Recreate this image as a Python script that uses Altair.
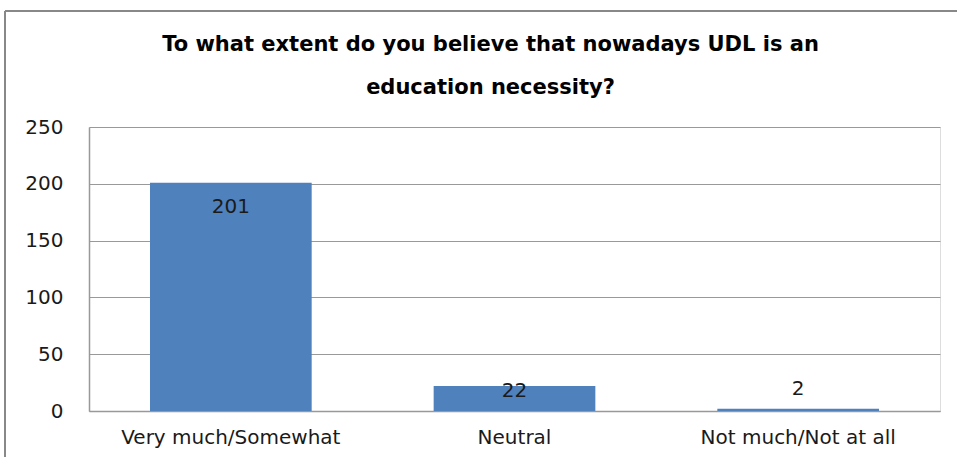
import altair as alt
import pandas as pd

categories = ["Very much/Somewhat", "Neutral", "Not much/Not at all"]
values = [201, 22, 2]
y_ticks = [0, 50, 100, 150, 200, 250]

df = pd.DataFrame({"category": categories, "value": values})

FONT = "DejaVu Sans"
BLUE = "#4F81BD"
FS = 20

x_enc = alt.X("category:N", sort=categories,
              scale=alt.Scale(paddingInner=0.43, paddingOuter=0.215),
              axis=alt.Axis(title=None, labelAngle=0, labelFont=FONT, labelFontSize=FS,
                            labelColor="#1a1a1a", labelPadding=16, ticks=False, labelLimit=0,
                            domainColor="#999999", domainWidth=1.5))
y_enc = alt.Y("value:Q", scale=alt.Scale(domain=[0, 250], nice=False),
              axis=alt.Axis(title=None, values=y_ticks, labelFont=FONT, labelFontSize=FS,
                            labelColor="#1a1a1a", labelPadding=26, ticks=False,
                            domainColor="#999999", domainWidth=1.5,
                            grid=True, gridColor="#999999", gridWidth=1))

base = alt.Chart(df)

bars = base.mark_bar(color=BLUE).encode(x=x_enc, y=y_enc)

lab_big = base.transform_filter("datum.value >= 100").mark_text(
    font=FONT, fontSize=FS, color="#1a1a1a", baseline="middle", dy=24
).encode(x=alt.X("category:N", sort=categories), y="value:Q", text="value:Q")

lab_mid = base.transform_filter("datum.value >= 10 && datum.value < 100").mark_text(
    font=FONT, fontSize=FS, color="#1a1a1a", baseline="middle", dy=5
).encode(x=alt.X("category:N", sort=categories), y="value:Q", text="value:Q")

lab_small = base.transform_filter("datum.value < 10").mark_text(
    font=FONT, fontSize=FS, color="#1a1a1a", baseline="middle", dy=-20
).encode(x=alt.X("category:N", sort=categories), y="value:Q", text="value:Q")

frame_top = alt.Chart(df).mark_rule(color="#888888", strokeWidth=2, clip=False).encode(
    x=alt.value(-84), x2=alt.value(900), y=alt.value(-116))
frame_left = alt.Chart(df).mark_rule(color="#888888", strokeWidth=2, clip=False).encode(
    x=alt.value(-84), y=alt.value(-116), y2=alt.value(400))

chart = alt.layer(frame_top, frame_left, bars, lab_big, lab_mid, lab_small).properties(
    width=851, height=284,
    title=alt.TitleParams(
        text=["To what extent do you believe that nowadays UDL is an", "education necessity?"],
        font=FONT, fontSize=21, fontWeight="bold", color="#000000",
        lineHeight=43, anchor="middle", frame="group", baseline="top", dx=-24, offset=-88),
    padding={"left": 89, "top": 127, "right": 17, "bottom": 46},
    autosize=alt.AutoSizeParams(type="none"),
).configure_view(stroke=None).configure(background="white")

chart.save("out.html", embed_options={"renderer": "svg", "actions": False})
